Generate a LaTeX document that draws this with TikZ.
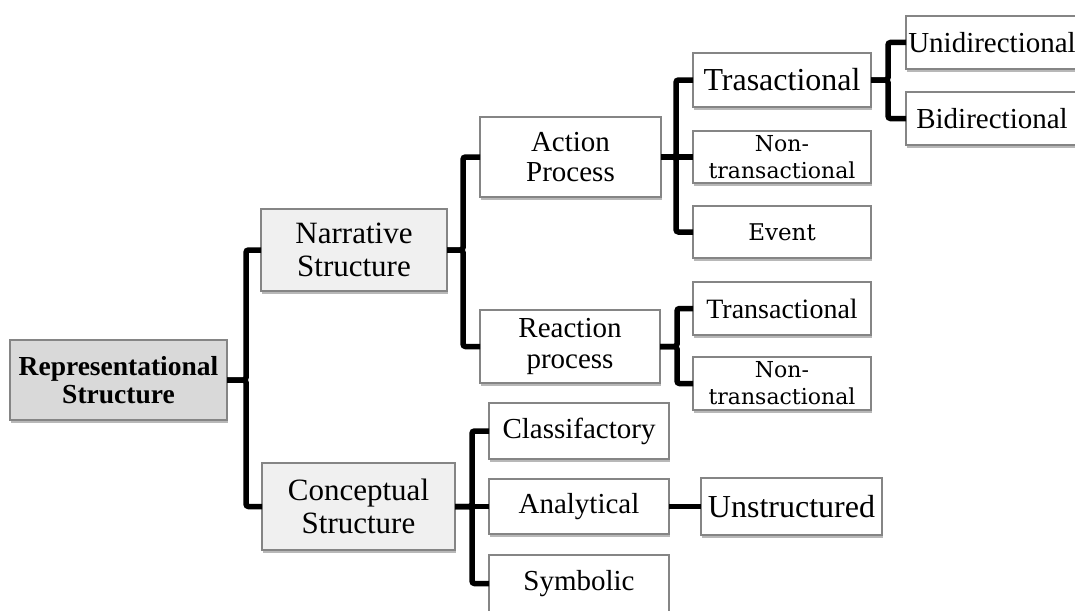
\documentclass[tikz,border=0pt]{standalone}
\usepackage{fontspec}
\setmainfont{Liberation Serif}
\newfontfamily\altserif{DejaVu Serif}
\usetikzlibrary{shadows}
\definecolor{boxedge}{HTML}{858585}
\definecolor{rootfill}{HTML}{D9D9D9}
\definecolor{midfill}{HTML}{F0F0F0}
\newcommand\fszA{\fontsize{31}{33}\selectfont}
\newcommand\fszB{\fontsize{29}{30}\selectfont}
\newcommand\fszC{\fontsize{32}{34}\selectfont}
\newcommand\fszD{\fontsize{28}{30}\selectfont}
\newcommand\fszE{\altserif\fontsize{22}{27}\selectfont}
\begin{document}
\begin{tikzpicture}[x=1pt,y=-1pt,
  box/.style={draw=boxedge, line width=1.4pt, fill=white, align=center,
    inner sep=0pt, outer sep=0pt,
    drop shadow={shadow xshift=1.2pt, shadow yshift=-2.5pt, opacity=0.28, fill=black}},
  conn/.style={draw=black, line width=5.5pt, rounded corners=2.5pt}]
\useasboundingbox (0,0) rectangle (1075,610);

% root and first level
\node[box, fill=rootfill, minimum width=217, minimum height=80,
      font=\bfseries\fontsize{27.5}{28}\selectfont] (rep) at (118.5,380)
      {Representational\\Structure};
\node[box, fill=midfill, minimum width=186, minimum height=82, font=\fszA]
      (narr) at (354,250) {Narrative\\Structure};
\node[box, fill=midfill, minimum width=193, minimum height=87, font=\fszA]
      (conc) at (358.5,506.5) {Conceptual\\Structure};

% narrative branch
\node[box, minimum width=181, minimum height=80, font=\fszB]
      (act) at (570.5,157) {Action\\Process};
\node[box, minimum width=180, minimum height=73, font=\fontsize{29}{31}\selectfont]
      (rea) at (570,346.5) {Reaction\\process};
\node[box, minimum width=178, minimum height=54, font=\fszC]
      (tras) at (782,80) {Trasactional};
\node[box, minimum width=178, minimum height=52, font=\fszE]
      (ntA) at (782,157) {Non-\\transactional};
\node[box, minimum width=178, minimum height=52, font=\altserif\fontsize{23}{27}\selectfont]
      (evt) at (782,232) {Event};
\node[box, minimum width=178, minimum height=53, font=\fszD]
      (trR) at (782,308.5) {Transactional};
\node[box, minimum width=178, minimum height=53, font=\fszE]
      (ntR) at (782,383.5) {Non-\\transactional};
\node[box, minimum width=172, minimum height=53, font=\fszB]
      (uni) at (992,42.5) {Unidirectional};
\node[box, minimum width=172, minimum height=53, font=\fszB]
      (bid) at (992,118.5) {Bidirectional};

% conceptual branch
\node[box, minimum width=180, minimum height=56, font=\fszB]
      (cls) at (579,431) {Classifactory};
\node[box, minimum width=180, minimum height=55, font=\fszB]
      (ana) at (579,506.5) {Analytical};
\node[box, minimum width=181, minimum height=57, font=\fszC]
      (uns) at (791.5,506.5) {Unstructured};
\node[box, minimum width=180, minimum height=57, font=\fszB]
      (sym) at (579,583.5) {Symbolic};

% tree connectors
\draw[conn] (rep.east) -- ++(19,0) |- (narr.west);
\draw[conn] (rep.east) -- ++(19,0) |- (conc.west);

\draw[conn] (narr.east) -- ++(16,0) |- (act.west);
\draw[conn] (narr.east) -- ++(16,0) |- (rea.west);

\draw[conn] (act.east) -- ++(15,0) |- (tras.west);
\draw[conn] (act.east) -- (ntA.west);
\draw[conn] (act.east) -- ++(15,0) |- (evt.west);

\draw[conn] (rea.east) -- ++(17,0) |- (trR.west);
\draw[conn] (rea.east) -- ++(17,0) |- (ntR.west);

\draw[conn] (tras.east) -- ++(17,0) |- (uni.west);
\draw[conn] (tras.east) -- ++(17,0) |- (bid.west);

\draw[conn] (conc.east) -- ++(17,0) |- (cls.west);
\draw[conn] (conc.east) -- (ana.west);
\draw[conn] (conc.east) -- ++(17,0) |- (sym.west);

\draw[conn] (ana.east) -- (uns.west);
\end{tikzpicture}
\end{document}
